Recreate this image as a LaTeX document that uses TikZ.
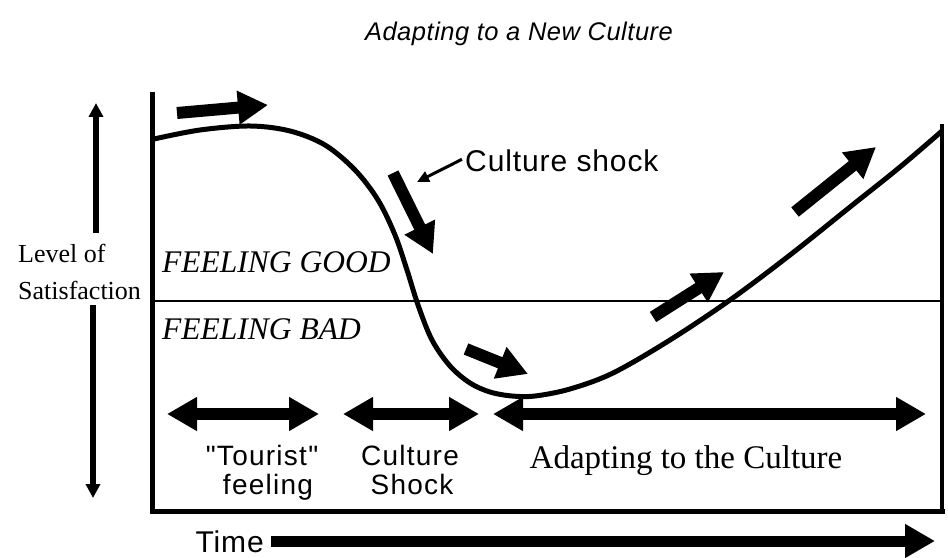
\documentclass[tikz,border=0pt]{standalone}
\usepackage{fontspec}
\setmainfont{Liberation Serif}
\setsansfont{Liberation Sans}
\newfontfamily\plainsans{Liberation Sans}[Ligatures=TeXOff]
\usetikzlibrary{arrows.meta}
\begin{document}
\begin{tikzpicture}[x=1bp,y=-1bp,
  fat/.style={line width=12bp,-{Triangle[length=30bp,width=32bp]}},
  dbl/.style={line width=12bp,{Triangle[length=30bp,width=32bp]}-{Triangle[length=30bp,width=32bp]}},
  thinarr/.style={line width=3bp,-{Triangle[length=12bp,width=11bp]}},
  axarr/.style={line width=6bp,-{Triangle[length=14bp,width=14bp]}},
  sanstxt/.style={inner sep=0,font=\plainsans\fontsize{30bp}{27bp}\selectfont\addfontfeature{LetterSpace=3}},
  labtxt/.style={inner sep=0,anchor=base,font=\plainsans\fontsize{28bp}{29bp}\selectfont\addfontfeature{LetterSpace=4.5}},
  seriftxt/.style={inner sep=0,font=\rmfamily\fontsize{33bp}{35bp}\selectfont},
  feel/.style={inner sep=0,font=\rmfamily\itshape\fontsize{31.5bp}{33bp}\selectfont},
  frame/.style={line width=5bp}]
\path[use as bounding box,fill=white] (0,0) rectangle (948,558);

% title
\node[inner sep=0,anchor=base,font=\sffamily\itshape\fontsize{25.5bp}{27bp}\selectfont\addfontfeature{LetterSpace=2}] (title) at (519,41) {Adapting to a New Culture};

% frame
\coordinate (ftl) at (152,92);
\coordinate (fbl) at (152,511);
\coordinate (fbr) at (942,511);
\coordinate (ftr) at (942,124);
\draw[frame] (ftl) -- (fbl) -- ([xshift=2.5bp]fbr);
\draw[line width=4bp] (ftr) -- (fbr);
\coordinate (ml) at (152,301);
\coordinate (mr) at (942,301);
\draw[line width=2bp] (ml) -- (mr);

% curve
\draw[line width=5bp,line join=round] plot[smooth,tension=0.55] coordinates {
 (154,139) (200,130) (250,126) (290,131) (325,145) (355,170) (378,200)
 (395,235) (407,270) (418,305) (432,340) (450,366) (470,383) (490,392)
 (512,396) (535,396) (570,389) (613,373) (670,340) (730,300) (790,255)
 (850,207) (900,167) (942,131)};

% arrows along curve
\coordinate (a1s) at (177,113); \coordinate (a1e) at (268,105);
\draw[fat] (a1s) -- (a1e);
\coordinate (a2s) at (393,173); \coordinate (a2e) at (433,254);
\draw[fat] (a2s) -- (a2e);
\coordinate (a4s) at (466,349); \coordinate (a4e) at (528,374);
\draw[fat] (a4s) -- (a4e);
\coordinate (a5s) at (653,317); \coordinate (a5e) at (724,272);
\draw[fat] (a5s) -- (a5e);
\coordinate (a6s) at (795,212); \coordinate (a6e) at (876,147);
\draw[fat] (a6s) -- (a6e);

% culture shock label
\node[sanstxt,anchor=base west] (cs) at (465,172) {Culture shock};
\coordinate (csp) at (417,182);
\draw[thinarr] (cs.west) ++(-3,-2) coordinate (css) (css) -- (csp);

% feeling labels
\node[feel,anchor=base west] (good) at (162,273) {FEELING GOOD};
\node[feel,anchor=base west] (bad) at (162,340) {FEELING BAD};

% level of satisfaction
\node[inner sep=0,anchor=base west,font=\rmfamily\fontsize{26bp}{28bp}\selectfont] (lv1) at (18,263) {Level of};
\node[inner sep=0,anchor=base west,font=\rmfamily\fontsize{26bp}{28bp}\selectfont] (lv2) at (18,300) {Satisfaction};
\coordinate (up1) at (96,233); \coordinate (up2) at (96,103);
\draw[axarr] (up1) -- (up2);
\coordinate (dn1) at (93,305); \coordinate (dn2) at (93,498);
\draw[axarr] (dn1) -- (dn2);

% period arrows
\coordinate (p1a) at (167,414); \coordinate (p1b) at (319,414);
\draw[dbl] (p1a) -- (p1b);
\coordinate (p2a) at (343,414); \coordinate (p2b) at (479,414);
\draw[dbl] (p2a) -- (p2b);
\coordinate (p3a) at (493,414); \coordinate (p3b) at (926,414);
\draw[dbl] (p3a) -- (p3b);

\node[labtxt] (t1) at (262,465) {"Tourist"};
\node[labtxt] (t2) at (268,494) {feeling};
\node[labtxt] (c1) at (410,465) {Culture};
\node[labtxt] (c2) at (412,494) {Shock};
\node[seriftxt,anchor=base] (ad) at (686,468) {Adapting to the Culture};

% time
\node[sanstxt,anchor=base east] (time) at (264,552) {Time};
\coordinate (tend) at (935,541);
\draw[line width=11bp,-{Triangle[length=30bp,width=32bp]}] ([xshift=7bp]time.east |- tend) -- (tend);
\end{tikzpicture}
\end{document}
